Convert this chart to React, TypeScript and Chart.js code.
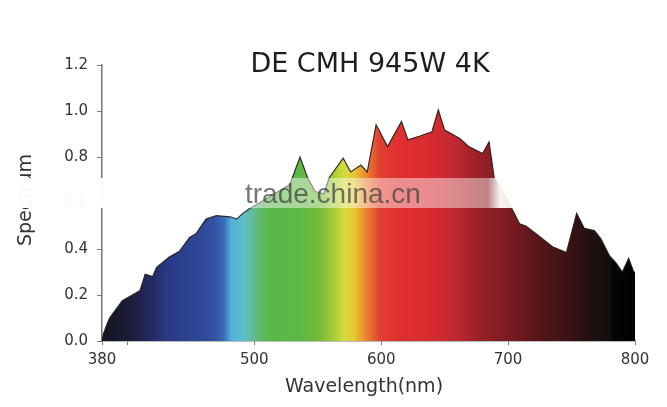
import React, { useEffect, useRef } from "react";
import { Chart, registerables } from "chart.js";

Chart.register(...registerables);

const chartTitle = "DE CMH 945W 4K";
const xAxisTitle = "Wavelength(nm)";
const yAxisTitle = "Spectrum";
const watermark = "trade.china.cn";

const xTickValues = [380, 400, 500, 600, 700, 800];
const xLabelled = [380, 500, 600, 700, 800];

const wavelengths = [
  380, 381, 384, 386, 396, 410, 414, 420, 423, 433, 441, 449, 454, 462, 470, 481,
  486, 491, 496, 504, 516, 528, 530, 536, 542, 548, 555, 559, 570, 576, 584, 589,
  596, 605, 616, 621, 630, 640, 645, 650, 662, 669, 680, 685, 689, 697, 703, 709,
  714, 722, 735, 746, 754, 760, 768, 773, 780, 785, 790, 795, 799, 800,
];
const spectrum = [
  0, 0.03, 0.074, 0.1, 0.175, 0.22, 0.29, 0.28, 0.32, 0.365, 0.39, 0.45, 0.466, 0.53, 0.545, 0.54,
  0.53, 0.555, 0.575, 0.6, 0.64, 0.68, 0.71, 0.8, 0.71, 0.65, 0.64, 0.71, 0.795, 0.735, 0.765, 0.735,
  0.94, 0.845, 0.955, 0.875, 0.89, 0.91, 1.005, 0.917, 0.88, 0.845, 0.815, 0.866, 0.71, 0.64, 0.575, 0.51,
  0.5, 0.466, 0.41, 0.385, 0.555, 0.49, 0.48, 0.445, 0.37, 0.34, 0.3, 0.36, 0.3, 0.3,
];

// colour of the spectrum fill at given wavelengths
const colorWavelengths = [
  380, 386, 402, 418, 433, 457, 469, 476, 482, 492, 503, 512, 536, 551, 563, 571,
  579, 584, 591, 599, 614, 638, 658, 677, 701, 724, 748, 764, 780, 783, 800,
];
const colorValues = [
  "#141420", "#161626", "#1c1c38", "#242a60", "#2a3a85", "#2e4896", "#3452a4", "#3a6cb8",
  "#55b0da", "#5cc0c8", "#62b878", "#5ab848", "#5eb845", "#72bc38", "#a8cc38", "#d6dc3c",
  "#e6c838", "#eaa030", "#e87030", "#e04030", "#e03030", "#d82c30", "#c02830", "#9a2028",
  "#7a1c22", "#581518", "#3a1214", "#221010", "#141010", "#050505", "#000000",
];

const FONT = "'DejaVu Sans', sans-serif";

const decorPlugin = {
  id: "decor",
  afterDraw(chart: any) {
    const ctx = chart.ctx;
    ctx.save();
    // chart title
    ctx.fillStyle = "#1e1e1e";
    ctx.font = `27px ${FONT}`;
    ctx.textAlign = "center";
    ctx.textBaseline = "alphabetic";
    ctx.fillText(chartTitle, 370, 72);
    // x title
    ctx.fillStyle = "#333";
    ctx.font = `19px ${FONT}`;
    ctx.fillText(xAxisTitle, 364, 392);
    // y title
    ctx.save();
    ctx.translate(26, 200);
    ctx.rotate(-Math.PI / 2);
    ctx.textBaseline = "middle";
    ctx.fillText(yAxisTitle, 0, 0);
    ctx.restore();
    // watermark band
    const g = ctx.createLinearGradient(0, 0, 522, 0);
    g.addColorStop(0, "rgba(255,255,255,0.97)");
    g.addColorStop(235 / 522, "rgba(255,255,255,0.95)");
    g.addColorStop(255 / 522, "rgba(255,255,255,0.45)");
    g.addColorStop(488 / 522, "rgba(255,255,255,0.45)");
    g.addColorStop(500 / 522, "rgba(255,255,255,0.95)");
    g.addColorStop(512 / 522, "rgba(255,255,255,0.9)");
    g.addColorStop(1, "rgba(255,255,255,0)");
    ctx.fillStyle = g;
    ctx.fillRect(0, 178, 522, 30);
    ctx.fillStyle = "rgba(60,60,60,0.7)";
    ctx.font = `28px 'Liberation Sans', Arial, sans-serif`;
    ctx.textAlign = "left";
    ctx.textBaseline = "alphabetic";
    ctx.fillText(watermark, 245, 203);
    ctx.restore();
  },
};

export default function App() {
  const ref = useRef<HTMLCanvasElement | null>(null);
  useEffect(() => {
    if (!ref.current) return;
    const points = wavelengths.map((w, i) => ({ x: w, y: spectrum[i] }));
    const chart = new Chart(ref.current, {
      type: "line",
      data: {
        datasets: [
          {
            data: points,
            fill: "origin",
            tension: 0,
            pointRadius: 0,
            borderColor: "rgba(35,25,25,0.9)",
            borderWidth: 1.2,
            backgroundColor: (c: any) => {
              const area = c.chart.chartArea;
              if (!area) return "#888";
              const grad = c.chart.ctx.createLinearGradient(area.left, 0, area.right, 0);
              colorWavelengths.forEach((w, i) => {
                grad.addColorStop((w - 380) / 420, colorValues[i]);
              });
              return grad;
            },
          },
        ],
      },
      options: {
        responsive: false,
        animation: false,
        layout: { padding: { left: 0, right: 32, top: 65, bottom: 0 } },
        plugins: { legend: { display: false }, tooltip: { enabled: false }, title: { display: false } },
        scales: {
          x: {
            type: "linear",
            min: 380,
            max: 800,
            afterBuildTicks: (s: any) => {
              s.ticks = xTickValues.map((v) => ({ value: v }));
            },
            afterFit: (s: any) => {
              s.height = 66;
            },
            ticks: {
              autoSkip: false,
              maxRotation: 0,
              padding: 6,
              color: "#333",
              font: { family: FONT, size: 15 },
              callback: (v: any) => (xLabelled.includes(Number(v)) ? String(v) : ""),
            },
            grid: { drawOnChartArea: false, drawTicks: true, tickLength: 4, color: "#777" },
            border: { color: "#777", width: 1.5 },
          },
          y: {
            min: 0,
            max: 1.2,
            afterFit: (s: any) => {
              s.width = 102;
            },
            ticks: {
              stepSize: 0.2,
              padding: 9,
              color: "#333",
              font: { family: FONT, size: 15 },
              callback: (v: any) => Number(v).toFixed(1),
            },
            grid: { drawOnChartArea: false, drawTicks: true, tickLength: 5, color: "#777" },
            border: { color: "#777", width: 1.5 },
          },
        },
      },
      plugins: [decorPlugin],
    });
    return () => chart.destroy();
  }, []);
  return (
    <div style={{ position: "absolute", left: 0, top: 0, width: 667, height: 407, background: "#fff" }}>
      <canvas ref={ref} width={667} height={407} style={{ width: 667, height: 407 }} />
    </div>
  );
}
